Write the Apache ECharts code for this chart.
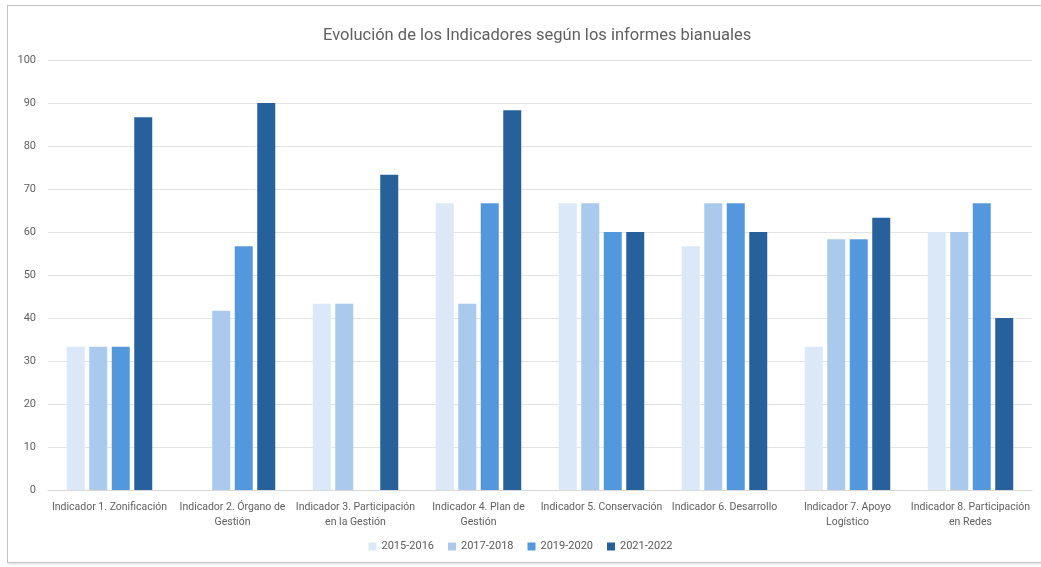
<!DOCTYPE html>
<html>
<head>
<meta charset="utf-8">
<script src="https://cdn.jsdelivr.net/npm/echarts@6/dist/echarts.min.js"></script>
<style>
html,body{margin:0;padding:0;background:#fff;}
#frame{position:absolute;left:7px;top:5px;width:1040px;height:556px;border-left:1px solid #c4c4c4;border-top:1px solid #c4c4c4;border-bottom:1px solid #c4c4c4;box-shadow:1px 1px 2px rgba(0,0,0,0.15);}
#chart{position:absolute;left:0;top:0;width:1041px;height:567px;}
</style>
</head>
<body>
<div id="frame"></div>
<div id="chart"></div>
<script>
const categories = [
  "Indicador 1. Zonificación",
  "Indicador 2. Órgano de\nGestión",
  "Indicador 3. Participación\nen la Gestión",
  "Indicador 4. Plan de\nGestión",
  "Indicador 5. Conservación",
  "Indicador 6. Desarrollo",
  "Indicador 7. Apoyo\nLogístico",
  "Indicador 8. Participación\nen Redes"
];
const seriesNames = ["2015-2016", "2017-2018", "2019-2020", "2021-2022"];
const s2015 = [33.3, 0, 43.3, 66.7, 66.7, 56.7, 33.3, 60];
const s2017 = [33.3, 41.7, 43.3, 43.3, 66.7, 66.7, 58.3, 60];
const s2019 = [33.3, 56.7, 0, 66.7, 60, 66.7, 58.3, 66.7];
const s2021 = [86.7, 90, 73.3, 88.3, 60, 60, 63.3, 40];
const yTicks = [0, 100, 10];
const colors = ["#dae8f7", "#a9caed", "#5397dc", "#26619c"];

const chart = echarts.init(document.getElementById('chart'), null, {renderer: 'canvas'});
const dataSets = [s2015, s2017, s2019, s2021];
chart.setOption({
  backgroundColor: 'transparent',
  animation: false,
  color: colors,
  textStyle: {fontFamily: 'Roboto'},
  title: {
    text: 'Evolución de los Indicadores según los informes bianuales',
    left: 318, top: 22,
    textStyle: {fontSize: 16.5, fontWeight: 'normal', color: '#606060', fontFamily: 'Roboto'}
  },
  legend: {
    bottom: 10, left: 'center',
    icon: 'rect', itemWidth: 8, itemHeight: 8, itemGap: 14,
    textStyle: {fontSize: 11, color: '#595959'},
    data: seriesNames
  },
  grid: {left: 48, right: 9, top: 60, bottom: 77},
  xAxis: {
    type: 'category', data: categories,
    axisLine: {lineStyle: {color: '#d9d9d9'}},
    axisTick: {show: false},
    axisLabel: {fontSize: 10.5, color: '#606060', interval: 0, lineHeight: 15, margin: 10}
  },
  yAxis: {
    type: 'value', min: yTicks[0], max: yTicks[1], interval: yTicks[2],
    axisLine: {show: false}, axisTick: {show: false},
    axisLabel: {fontSize: 11, color: '#606060', margin: 12},
    splitLine: {lineStyle: {color: '#e3e3e3'}}
  },
  series: seriesNames.map((n, i) => ({
    name: n, type: 'bar', data: dataSets[i],
    barWidth: 18, barGap: '25%'
  }))
});
</script>
</body>
</html>
